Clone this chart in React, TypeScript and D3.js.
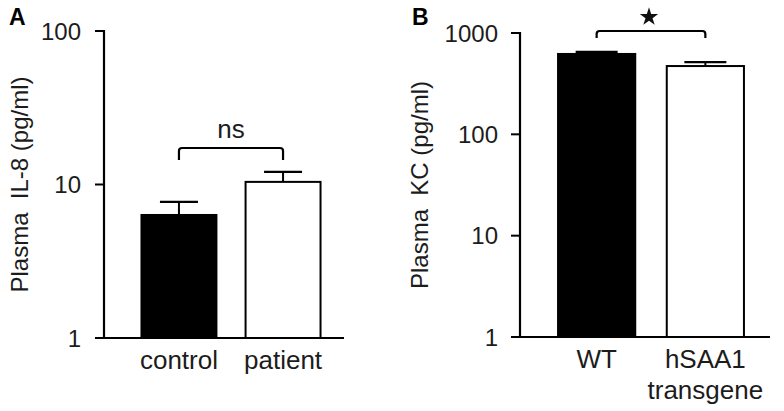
import React from "react";
import * as d3 from "d3";

const catsA = ["control", "patient"];
const meanA = [6.33, 10.4];
const errA = [7.7, 12.07];
const fillA = ["#000", "#fff"];
const ticksA = [1, 10, 100];

const catsB = ["WT", "hSAA1\ntransgene"];
const meanB = [621, 472];
const errB = [650, 517];
const fillB = ["#000", "#fff"];
const ticksB = [1, 10, 100, 1000];

const FONT = "'Liberation Sans', Arial, Helvetica, sans-serif";
const TXT = "#1c1c1c";

type PanelProps = {
  letter: string;
  letterX: number;
  cats: string[];
  mean: number[];
  err: number[];
  fills: string[];
  ticks: number[];
  yDomain: [number, number];
  yRange: [number, number];
  axisX: number;
  xRange: [number, number];
  xAxisEnd: number;
  padIn: number;
  padOut: number;
  capW: number;
  yLabel: string;
  yLabelX: number;
  tickLabelX: number;
  bracketY: number;
  bracketDrop: number;
  sig: string;
};

function Panel(p: PanelProps) {
  const y = d3.scaleLog().domain(p.yDomain).range(p.yRange);
  const x = d3.scaleBand<string>().domain(p.cats).range(p.xRange).paddingInner(p.padIn).paddingOuter(p.padOut);
  const bw = x.bandwidth();
  const y0 = y(p.yDomain[0]);
  const yTop = y(p.yDomain[1]);
  const tickLen = 9;
  const cx = (c: string) => (x(c) as number) + bw / 2;
  const bx1 = cx(p.cats[0]);
  const bx2 = cx(p.cats[1]);
  const by = p.bracketY;
  const r = 3;
  const bracketPath = `M${bx1},${by + p.bracketDrop} L${bx1},${by + r} Q${bx1},${by} ${bx1 + r},${by} L${bx2 - r},${by} Q${bx2},${by} ${bx2},${by + r} L${bx2},${by + p.bracketDrop}`;
  const midY = (p.yRange[0] + p.yRange[1]) / 2;
  return (
    <g>
      <text x={p.letterX} y={25} fontFamily={FONT} fontWeight="bold" fontSize={23} fill="#000">{p.letter}</text>
      {p.cats.map((c, i) => (
        <g key={c}>
          <line x1={cx(c)} x2={cx(c)} y1={y(p.mean[i])} y2={y(p.err[i])} stroke="#000" strokeWidth={2} />
          <line x1={cx(c) - p.capW / 2} x2={cx(c) + p.capW / 2} y1={y(p.err[i])} y2={y(p.err[i])} stroke="#000" strokeWidth={2.2} />
          <rect x={x(c) as number} y={y(p.mean[i])} width={bw} height={y0 - y(p.mean[i])} fill={p.fills[i]} stroke="#000" strokeWidth={2} />
        </g>
      ))}
      <line x1={p.axisX} x2={p.axisX} y1={yTop - 1} y2={y0 + 1} stroke="#000" strokeWidth={2.2} />
      <line x1={p.axisX - tickLen} x2={p.xAxisEnd} y1={y0} y2={y0} stroke="#000" strokeWidth={2.2} />
      {p.ticks.map((t) => (
        <g key={t}>
          <line x1={p.axisX - tickLen} x2={p.axisX} y1={y(t)} y2={y(t)} stroke="#000" strokeWidth={2} />
          <text x={p.tickLabelX} y={y(t) + 8.5} textAnchor="end" fontFamily={FONT} fontSize={24} fill={TXT}>{t}</text>
        </g>
      ))}
      {p.cats.map((c) => {
        const lines = c.split("\n");
        return (
          <text key={"l" + c} x={cx(c)} y={y0 + 31} textAnchor="middle" fontFamily={FONT} fontSize={26} fill={TXT}>
            {lines.map((ln, j) => (
              <tspan key={j} x={cx(c)} dy={j === 0 ? 0 : 31}>{ln}</tspan>
            ))}
          </text>
        );
      })}
      <text transform={`translate(${p.yLabelX},${midY}) rotate(-90)`} textAnchor="middle" fontFamily={FONT} fontSize={24} fill={TXT} style={{ whiteSpace: "pre" }}>{p.yLabel}</text>
      <path d={bracketPath} fill="none" stroke="#000" strokeWidth={2.2} />
      {p.sig === "*" ? (
        <path d={d3.symbol(d3.symbolStar, 105)() as string} transform={`translate(${(bx1 + bx2) / 2 - 2},${by - 14})`} fill="#111" />
      ) : (
        <text x={(bx1 + bx2) / 2} y={by - 10} textAnchor="middle" fontFamily={FONT} fontSize={26} fill={TXT}>{p.sig}</text>
      )}
    </g>
  );
}

export default function App() {
  return (
    <svg width={784} height={411} style={{ position: "absolute", left: 0, top: 0, background: "#fff" }}>
      <rect width={784} height={411} fill="#fff" />
      <Panel
        letter="A"
        letterX={9}
        cats={catsA}
        mean={meanA}
        err={errA}
        fills={fillA}
        ticks={ticksA}
        yDomain={[1, 100]}
        yRange={[338, 31]}
        axisX={104}
        xRange={[104, 358]}
        xAxisEnd={344}
        padIn={0.28}
        padOut={0.36}
        capW={38}
        yLabel="Plasma  IL-8 (pg/ml)"
        yLabelX={28}
        tickLabelX={81}
        bracketY={148}
        bracketDrop={12}
        sig="ns"
      />
      <Panel
        letter="B"
        letterX={412}
        cats={catsB}
        mean={meanB}
        err={errB}
        fills={fillB}
        ticks={ticksB}
        yDomain={[1, 1000]}
        yRange={[337, 33]}
        axisX={520}
        xRange={[520, 782]}
        xAxisEnd={770}
        padIn={0.29}
        padOut={0.35}
        capW={42}
        yLabel="Plasma  KC (pg/ml)"
        yLabelX={428}
        tickLabelX={498}
        bracketY={31}
        bracketDrop={7}
        sig="*"
      />
    </svg>
  );
}
